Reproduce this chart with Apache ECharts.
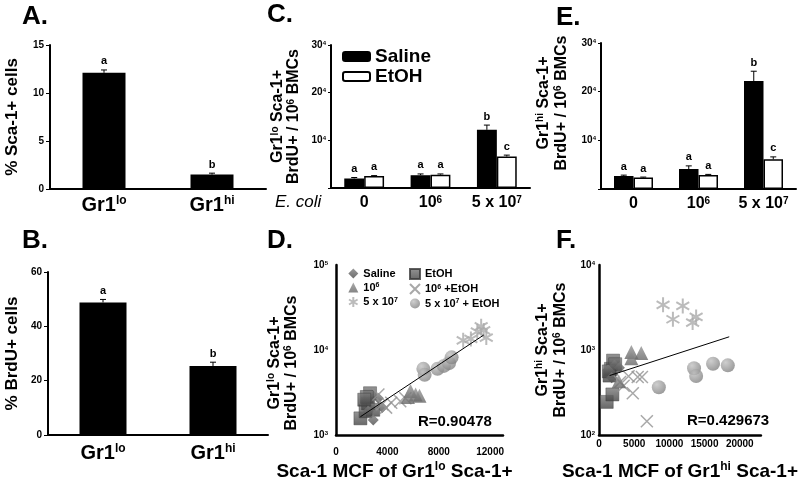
<!DOCTYPE html>
<html>
<head>
<meta charset="utf-8">
<script src="https://cdn.jsdelivr.net/npm/echarts@6/dist/echarts.min.js"></script>
<style>
  html, body { margin: 0; background: #fff; }
  #chart { width: 800px; height: 488px; }
</style>
</head>
<body>
<div id="chart"></div>
<script>
const FONT = 'Liberation Sans, Arial, sans-serif';

// panels A / B
const popCats = ['Gr1lo', 'Gr1hi'];
const sca1Pct = [12.1, 1.5];
const sca1Err = [0.3, 0.15];
const sca1Sig = ['a', 'b'];
const brduPct = [48.8, 25.4];
const brduErr = [1.1, 1.4];
const brduSig = ['a', 'b'];

// panels C / E
const ecoliCats = ['0', '10^6', '5 x 10^7'];
const loSaline = [2000, 2700, 12200];
const loSalineErr = [200, 250, 1000];
const loSalineSig = ['a', 'a', 'b'];
const loEtoh = [2500, 2800, 6600];
const loEtohErr = [100, 150, 300];
const loEtohSig = ['a', 'a', 'c'];
const hiSaline = [2650, 4100, 22200];
const hiSalineErr = [200, 650, 2000];
const hiSalineSig = ['a', 'a', 'b'];
const hiEtoh = [2350, 2900, 6100];
const hiEtohErr = [100, 100, 500];
const hiEtohSig = ['a', 'a', 'c'];

// panels D / F : [MCF, BrdU+ per 10^6 BMCs]
const groupKeys = ['etoh', 'sal', 't6e', 't6', 't7e', 't7'];
const groupLabels = {
  sal: 'Saline', etoh: 'EtOH', t6: '10^6', t6e: '10^6 +EtOH',
  t7: '5 x 10^7', t7e: '5 x 10^7 + EtOH'
};
const loSalPts = [[2900, 1500], [3300, 2700], [3600, 2100], [2500, 1900]];
const loEtohPts = [[1900, 1570], [2300, 1900], [2500, 2350], [2650, 3100], [2400, 2800], [2900, 1980], [2200, 2600]];
const loT6Pts = [[5800, 3300], [6200, 3000], [6500, 2900], [5600, 2800]];
const loT6ePts = [[3300, 3000], [3900, 2100], [4300, 2400], [5000, 2500], [5400, 2700], [3600, 2300]];
const loT7Pts = [[9900, 13000], [10500, 13500], [11300, 19000], [11700, 14000], [11000, 16500], [11500, 17000]];
const loT7ePts = [[6800, 6000], [6900, 5100], [7900, 6000], [8400, 6500], [8800, 7000], [9000, 8200]];
const loTrend = [[1900, 1640], [11500, 15000]];

const hiSalPts = [[1300, 580], [2200, 660], [2900, 620], [1800, 470]];
const hiEtohPts = [[1100, 245], [1900, 300], [1500, 500], [1700, 600], [2000, 750], [2300, 680], [1400, 560]];
const hiT6Pts = [[4600, 950], [6000, 920], [4600, 800], [2800, 430]];
const hiT6ePts = [[3000, 420], [3500, 380], [4200, 490], [4800, 310], [5500, 480], [6100, 480], [6800, 145]];
const hiT7Pts = [[9100, 3400], [11900, 3300], [10500, 2300], [13800, 2450], [13300, 2100]];
const hiT7ePts = [[8500, 365], [13500, 610], [13800, 495], [16200, 690], [18300, 660]];
const hiTrend = [[1500, 500], [18500, 1430]];

const loPts = { sal: loSalPts, etoh: loEtohPts, t6: loT6Pts, t6e: loT6ePts, t7: loT7Pts, t7e: loT7ePts };
const hiPts = { sal: hiSalPts, etoh: hiEtohPts, t6: hiT6Pts, t6e: hiT6ePts, t7: hiT7Pts, t7e: hiT7ePts };

const sup = s => s.replace(/\^(\w+)/g, '{s|$1}');
const rich = size => ({
  s: { fontSize: Math.round(size * 0.62), fontWeight: 'bold', fontFamily: FONT, color: '#000', verticalAlign: 'top' }
});
const lin = (a, b) => new echarts.graphic.LinearGradient(0, 0, 0, 1, [{ offset: 0, color: a }, { offset: 1, color: b }]);
const rad = (a, b) => new echarts.graphic.RadialGradient(0.35, 0.3, 0.8, [{ offset: 0, color: a }, { offset: 1, color: b }]);

const markStyle = {
  sal: { symbol: 'diamond', size: 11, itemStyle: { color: lin('#808080', '#4a4a4a') } },
  etoh: { symbol: 'rect', size: 13, itemStyle: { color: lin('#7a7a7a', '#424242'), borderColor: '#383838', borderWidth: 0.5 } },
  t6: { symbol: 'triangle', size: 14, itemStyle: { color: lin('#969696', '#666666') } },
  t6e: { symbol: 'path://M0,0L10,10M10,0L0,10', size: 12, itemStyle: { color: 'rgba(0,0,0,0)', borderColor: '#929292', borderWidth: 1.5 } },
  t7: { symbol: 'path://M5,0L5,10M0.7,2.5L9.3,7.5M9.3,2.5L0.7,7.5', size: 15, itemStyle: { color: 'rgba(0,0,0,0)', borderColor: '#aaaaaa', borderWidth: 2 } },
  t7e: { symbol: 'circle', size: 14, itemStyle: { color: rad('#c2c2c2', '#7c7c7c') } }
};

function errSeries(idx, vals, errs, sig, shift) {
  return {
    type: 'custom', xAxisIndex: idx, yAxisIndex: idx, z: 5, silent: true,
    data: vals.map((v, i) => [i, v, errs[i]]),
    renderItem(params, api) {
      const i = api.value(0), v = api.value(1), e = api.value(2);
      const band = api.size([1, 0])[0];
      const base = api.coord([i, v]);
      const x = base[0] + shift * band;
      const yTop = api.coord([i, v + e])[1];
      return {
        type: 'group',
        children: [
          { type: 'line', shape: { x1: x, y1: base[1], x2: x, y2: yTop }, style: { stroke: '#000', lineWidth: 1 } },
          { type: 'line', shape: { x1: x - 3, y1: yTop, x2: x + 3, y2: yTop }, style: { stroke: '#000', lineWidth: 1 } },
          { type: 'text', x: x, y: yTop - 3,
            style: { text: sig[params.dataIndex], align: 'center', verticalAlign: 'bottom', font: 'bold 11px ' + FONT, fill: '#000' } }
        ]
      };
    }
  };
}

function scatterSeries(prefix, idx, pts) {
  return groupKeys.map(k => ({
    name: prefix + k,
    type: 'scatter', xAxisIndex: idx, yAxisIndex: idx,
    symbol: markStyle[k].symbol, symbolSize: markStyle[k].size, symbolKeepAspect: true,
    itemStyle: markStyle[k].itemStyle,
    data: pts[k]
  }));
}

function trendSeries(idx, pts) {
  return {
    type: 'line', xAxisIndex: idx, yAxisIndex: idx, data: pts, showSymbol: false, silent: true,
    lineStyle: { color: '#000', width: 1 }, z: 4
  };
}

const axisLine = w => ({ show: true, lineStyle: { color: '#000', width: w } });
const tickLbl = (extra) => Object.assign({ fontSize: 10, fontWeight: 'bold', color: '#000', fontFamily: FONT }, extra);
const titleStyle = (size, lh, extra) => Object.assign({ fontSize: size, fontWeight: 'bold', color: '#000', fontFamily: FONT, lineHeight: lh, rich: {
  s: { fontSize: Math.round(size * 0.62), fontWeight: 'bold', fontFamily: FONT, color: '#000', verticalAlign: 'top', lineHeight: lh }
} }, extra);

const yTwoLine = hl => 'Gr1{s|' + hl + '} Sca-1+\nBrdU+ / 10{s|6} BMCs';

const catAxis = (idx, cats, size, margin) => ({
  gridIndex: idx, type: 'category', data: cats,
  axisLine: axisLine(2), axisTick: { show: false },
  axisLabel: tickLbl({ fontSize: size, margin: margin, interval: 0, hideOverlap: false, formatter: v => sup(v), rich: rich(size) })
});

const option = {
  animation: false,
  textStyle: { fontFamily: FONT },
  grid: [
    { left: 50, top: 45, width: 216, height: 144 },
    { left: 48, top: 272, width: 220, height: 163 },
    { left: 331, top: 45, width: 199, height: 143 },
    { left: 336, top: 265, width: 167, height: 170 },
    { left: 601, top: 43, width: 195, height: 146 },
    { left: 599, top: 265, width: 188, height: 170 }
  ],
  xAxis: [
    catAxis(0, popCats.map(c => c.slice(0, 3) + '^' + c.slice(3)), 20, 6),
    catAxis(1, popCats.map(c => c.slice(0, 3) + '^' + c.slice(3)), 20, 8),
    catAxis(2, ecoliCats, 16, 7),
    {
      gridIndex: 3, type: 'value', min: 0, max: 13000, interval: 4000,
      axisLine: axisLine(2.5), axisTick: { show: false }, splitLine: { show: false },
      axisLabel: tickLbl({ margin: 12, showMaxLabel: false, formatter: v => String(v) }),
      name: 'Sca-1 MCF of Gr1{s|lo} Sca-1+', nameLocation: 'middle', nameGap: 26,
      nameTextStyle: titleStyle(19, 22, { padding: [0, 50, 0, 0] })
    },
    catAxis(4, ecoliCats, 16, 7),
    {
      gridIndex: 5, type: 'value', min: 0, max: 23000, interval: 5000,
      axisLine: axisLine(2.5), axisTick: { show: false }, splitLine: { show: false },
      axisLabel: tickLbl({ margin: 4, showMaxLabel: false, formatter: v => String(v) }),
      name: 'Sca-1 MCF of Gr1{s|hi} Sca-1+', nameLocation: 'middle', nameGap: 26,
      nameTextStyle: titleStyle(19, 22)
    }
  ],
  yAxis: [
    {
      gridIndex: 0, type: 'value', min: 0, max: 15, interval: 5,
      axisLine: axisLine(2), axisTick: { show: true, length: 4, lineStyle: { color: '#000' } },
      splitLine: { show: false }, axisLabel: tickLbl({ margin: 6 }),
      name: '% Sca-1+ cells', nameLocation: 'middle', nameRotate: 90, nameGap: 29,
      nameTextStyle: titleStyle(17, 18)
    },
    {
      gridIndex: 1, type: 'value', min: 0, max: 60, interval: 20,
      axisLine: axisLine(2), axisTick: { show: true, length: 4, lineStyle: { color: '#000' } },
      splitLine: { show: false }, axisLabel: tickLbl({ margin: 6 }),
      name: '% BrdU+ cells', nameLocation: 'middle', nameRotate: 90, nameGap: 27,
      nameTextStyle: titleStyle(17, 18)
    },
    {
      gridIndex: 2, type: 'value', min: 0, max: 30000, interval: 10000,
      axisLine: axisLine(2), axisTick: { show: true, length: 3, lineStyle: { color: '#000' } },
      splitLine: { show: false },
      axisLabel: tickLbl({ fontSize: 10, margin: 5, formatter: v => v ? (v / 1000) + '{s|4}' : '', rich: rich(10) }),
      name: yTwoLine('lo'), nameLocation: 'middle', nameRotate: 90, nameGap: 29,
      nameTextStyle: titleStyle(16, 16)
    },
    {
      gridIndex: 3, type: 'log', logBase: 10, min: 1000, max: 100000,
      axisLine: axisLine(2.5), axisTick: { show: false }, splitLine: { show: false },
      axisLabel: tickLbl({ fontSize: 10, margin: 8, formatter: v => '10{s|' + Math.round(Math.log10(v)) + '}', rich: rich(10) }),
      name: yTwoLine('lo'), nameLocation: 'middle', nameRotate: 90, nameGap: 36,
      nameTextStyle: titleStyle(16, 17, { padding: [0, 26, 0, 0] })
    },
    {
      gridIndex: 4, type: 'value', min: 0, max: 30000, interval: 10000,
      axisLine: axisLine(2), axisTick: { show: true, length: 3, lineStyle: { color: '#000' } },
      splitLine: { show: false },
      axisLabel: tickLbl({ fontSize: 10, margin: 5, formatter: v => v ? (v / 1000) + '{s|4}' : '', rich: rich(10) }),
      name: yTwoLine('hi'), nameLocation: 'middle', nameRotate: 90, nameGap: 30,
      nameTextStyle: titleStyle(16, 18, { padding: [0, 0, 0, 26] })
    },
    {
      gridIndex: 5, type: 'log', logBase: 10, min: 100, max: 10000,
      axisLine: axisLine(2.5), axisTick: { show: false }, splitLine: { show: false },
      axisLabel: tickLbl({ fontSize: 10, margin: 4, formatter: v => '10{s|' + Math.round(Math.log10(v)) + '}', rich: rich(10) }),
      name: yTwoLine('hi'), nameLocation: 'middle', nameRotate: 90, nameGap: 29,
      nameTextStyle: titleStyle(16, 18)
    }
  ],
  legend: [
    {
      data: ['Saline', 'EtOH'], left: 337, top: 42, orient: 'vertical',
      itemWidth: 27, itemHeight: 9, itemGap: 1, itemTextGap: 3,
      textStyle: { fontSize: 19, fontWeight: 'bold', color: '#000', fontFamily: FONT }
    },
    {
      data: ['D:sal', 'D:t6', 'D:t7'], left: 343, top: 263, orient: 'vertical',
      itemWidth: 10, itemHeight: 10, itemGap: 3, itemTextGap: 8,
      formatter: n => sup(groupLabels[n.slice(2)]),
      textStyle: { fontSize: 11, fontWeight: 'bold', color: '#000', fontFamily: FONT, rich: rich(11) }
    },
    {
      data: ['D:etoh', 'D:t6e', 'D:t7e'], left: 404, top: 263, orient: 'vertical',
      itemWidth: 10, itemHeight: 10, itemGap: 3, itemTextGap: 8,
      formatter: n => sup(groupLabels[n.slice(2)]),
      textStyle: { fontSize: 11, fontWeight: 'bold', color: '#000', fontFamily: FONT, rich: rich(11) }
    }
  ],
  series: [
    { type: 'bar', xAxisIndex: 0, yAxisIndex: 0, data: sca1Pct, barWidth: 43, itemStyle: { color: '#000' } },
    errSeries(0, sca1Pct, sca1Err, sca1Sig, 0),
    { type: 'bar', xAxisIndex: 1, yAxisIndex: 1, data: brduPct, barWidth: 47, itemStyle: { color: '#000' } },
    errSeries(1, brduPct, brduErr, brduSig, 0),

    { name: 'Saline', type: 'bar', xAxisIndex: 2, yAxisIndex: 2, data: loSaline, barWidth: '30%', barGap: '0%',
      itemStyle: { color: '#000', borderColor: '#000', borderWidth: 1.5 } },
    { name: 'EtOH', type: 'bar', xAxisIndex: 2, yAxisIndex: 2, data: loEtoh, barWidth: '30%', barGap: '0%',
      itemStyle: { color: '#fff', borderColor: '#000', borderWidth: 1.5 } },
    errSeries(2, loSaline, loSalineErr, loSalineSig, -0.15),
    errSeries(2, loEtoh, loEtohErr, loEtohSig, 0.15),

    { name: 'hiSaline', type: 'bar', xAxisIndex: 4, yAxisIndex: 4, data: hiSaline, barWidth: '30%', barGap: '0%',
      itemStyle: { color: '#000', borderColor: '#000', borderWidth: 1.5 } },
    { name: 'hiEtoh', type: 'bar', xAxisIndex: 4, yAxisIndex: 4, data: hiEtoh, barWidth: '30%', barGap: '0%',
      itemStyle: { color: '#fff', borderColor: '#000', borderWidth: 1.5 } },
    errSeries(4, hiSaline, hiSalineErr, hiSalineSig, -0.15),
    errSeries(4, hiEtoh, hiEtohErr, hiEtohSig, 0.15),

    ...scatterSeries('D:', 3, loPts),
    trendSeries(3, loTrend),
    ...scatterSeries('F:', 5, hiPts),
    trendSeries(5, hiTrend)
  ],
  graphic: [
    { type: 'text', left: 22, top: 4, style: { text: 'A.', font: 'bold 26px ' + FONT, fill: '#000' } },
    { type: 'text', left: 22, top: 228, style: { text: 'B.', font: 'bold 26px ' + FONT, fill: '#000' } },
    { type: 'text', left: 267, top: 2, style: { text: 'C.', font: 'bold 26px ' + FONT, fill: '#000' } },
    { type: 'text', left: 267, top: 228, style: { text: 'D.', font: 'bold 26px ' + FONT, fill: '#000' } },
    { type: 'text', left: 556, top: 5, style: { text: 'E.', font: 'bold 26px ' + FONT, fill: '#000' } },
    { type: 'text', left: 556, top: 228, style: { text: 'F.', font: 'bold 26px ' + FONT, fill: '#000' } },
    { type: 'text', left: 275, top: 194, style: { text: 'E. coli', font: 'italic 17px ' + FONT, fill: '#000' } },
    { type: 'text', left: 418, top: 414, style: { text: 'R=0.90478', font: 'bold 15px ' + FONT, fill: '#000' } },
    { type: 'text', left: 687, top: 413, style: { text: 'R=0.429673', font: 'bold 15px ' + FONT, fill: '#000' } }
  ]
};

const chart = echarts.init(document.getElementById('chart'), null, { renderer: 'canvas' });
chart.setOption(option);
</script>
</body>
</html>
